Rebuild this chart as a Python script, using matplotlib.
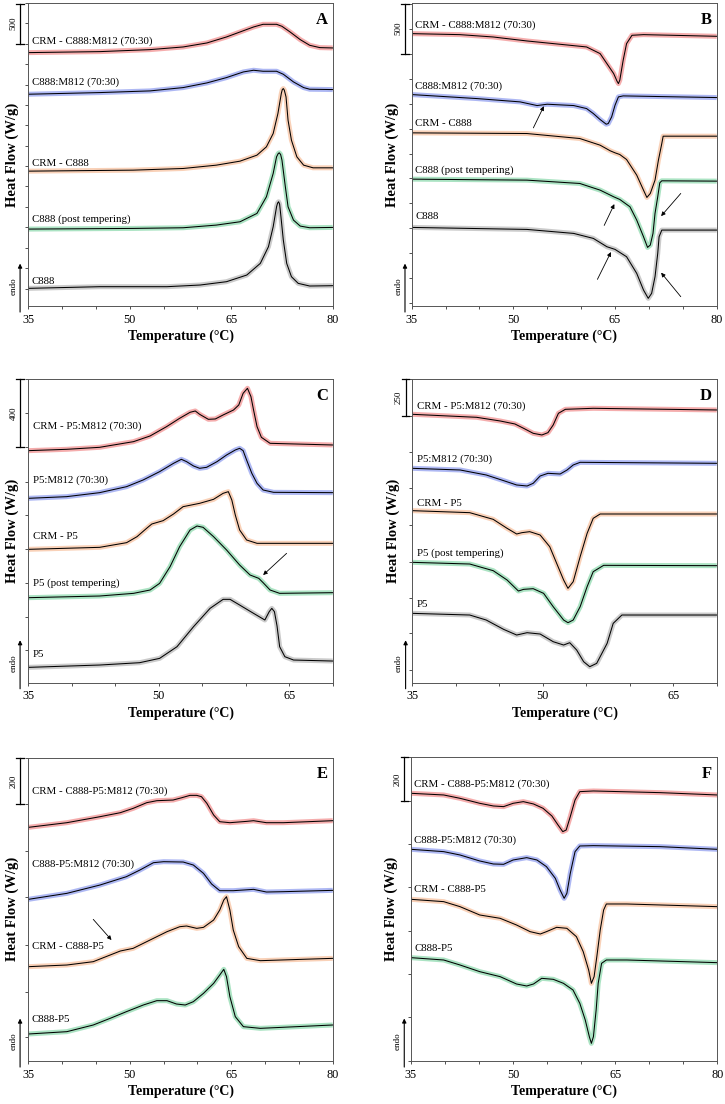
import matplotlib
matplotlib.use("Agg")
import matplotlib.pyplot as plt
import matplotlib.transforms as mtransforms

plt.rcParams['font.family'] = ['Liberation Serif', 'DejaVu Serif']

# Heat flow traces (offset, arbitrary units; height above the panel's lower edge)
# ---------------- Panel A ----------------
A_T_red = [35, 45.6, 53.0, 57.9, 61.4, 64.3, 66.3, 68.3, 69.7, 71.7, 72.5, 73.7, 75.2, 76.6, 78.1, 80]
A_H_red = [761, 764, 770, 778, 790, 808, 823, 838, 846, 846, 840, 823, 800, 783, 776, 775]
A_T_blue = [35, 45.6, 53.0, 57.9, 61.4, 64.3, 66.8, 68.3, 69.7, 71.7, 72.7, 74.2, 75.7, 76.6, 80]
A_H_blue = [636, 641, 646, 656, 670, 686, 703, 708, 705, 705, 696, 673, 656, 651, 650]
A_T_orange = [35, 50.5, 57.9, 62.8, 66.3, 68.8, 70.2, 71.2, 71.9, 72.4, 72.55, 72.7, 72.85, 73.1, 73.4, 73.9, 74.7, 75.7, 77.1, 80]
A_H_orange = [405, 408, 413, 423, 435, 453, 478, 518, 578, 638, 650, 653, 648, 628, 558, 498, 448, 423, 415, 415]
A_T_green = [35, 50.5, 57.9, 62.8, 66.3, 68.8, 70.2, 71.2, 71.7, 71.95, 72.1, 72.3, 72.5, 73.0, 73.4, 74.2, 75.2, 76.6, 80]
A_H_green = [231, 233, 235, 243, 253, 278, 328, 398, 448, 458, 460, 455, 438, 358, 298, 258, 240, 235, 236]
A_T_gray = [35, 45.6, 55.5, 60.4, 64.3, 67.3, 69.3, 70.5, 71.2, 71.7, 71.85, 72.0, 72.15, 72.3, 72.7, 73.2, 73.9, 74.9, 76.6, 80]
A_H_gray = [53, 58, 58, 63, 73, 93, 128, 178, 238, 298, 309, 313, 306, 278, 198, 128, 88, 68, 60, 61]
A_labels = ["CRM - C888:M812 (70:30)", "C888:M812 (70:30)", "CRM - C888", "C888 (post tempering)", "C888"]
A_label_H = [796, 671, 429, 261, 75]

# ---------------- Panel B ----------------
B_T_red = [35, 42.1, 47.0, 52.0, 56.9, 60.8, 61.8, 62.8, 63.8, 64.8, 65.3, 65.5, 65.7, 66.2, 66.7, 67.5, 69.2, 80]
B_H_red = [818, 815, 808, 796, 786, 778, 768, 758, 728, 698, 675, 668, 678, 738, 788, 813, 815, 810]
B_T_blue = [35, 44.6, 51.0, 53.5, 55.0, 58.9, 60.8, 61.8, 62.8, 63.7, 64.0, 64.5, 65.0, 65.5, 66.2, 80]
B_H_blue = [635, 623, 613, 602, 606, 602, 593, 578, 560, 546, 548, 568, 603, 628, 631, 626]
B_T_orange = [35, 52.0, 59.8, 62.8, 64.3, 65.0, 65.7, 66.7, 68.2, 69.2, 69.7, 70.2, 70.9, 71.4, 71.9, 72.1, 80]
B_H_orange = [520, 518, 503, 483, 466, 460, 455, 440, 393, 348, 326, 338, 378, 438, 488, 510, 510]
B_T_green = [35, 52.0, 59.8, 62.8, 64.8, 65.7, 67.2, 68.2, 69.2, 69.8, 70.2, 70.6, 70.9, 71.3, 71.6, 71.9, 80]
B_H_green = [381, 378, 368, 348, 328, 320, 298, 258, 208, 176, 183, 218, 278, 328, 370, 376, 375]
B_T_gray = [35, 52.0, 58.9, 61.8, 63.8, 65.0, 66.7, 68.2, 69.2, 69.9, 70.4, 70.9, 71.3, 71.5, 71.9, 80]
B_H_gray = [236, 230, 218, 203, 178, 170, 148, 98, 48, 23, 38, 88, 158, 208, 228, 228]
B_labels = ["CRM - C888:M812 (70:30)", "C888:M812 (70:30)", "CRM - C888", "C888 (post tempering)", "C888"]
B_label_H = [843, 660, 548, 408, 268]

# ---------------- Panel C ----------------
C_T_red = [35, 39.4, 43.2, 47.1, 49.0, 50.9, 52.4, 53.6, 54.2, 54.7, 55.7, 56.5, 57.4, 58.6, 59.2, 59.7, 60.2, 60.6, 60.9, 61.3, 61.8, 62.8, 70]
C_H_red = [696, 700, 706, 723, 740, 768, 793, 811, 815, 805, 790, 791, 803, 818, 833, 868, 883, 858, 818, 768, 736, 718, 713]
C_T_blue = [35, 39.4, 43.2, 46.3, 48.2, 50.1, 51.7, 52.6, 53.2, 54.0, 54.7, 55.5, 56.7, 57.8, 58.8, 59.3, 59.7, 60.1, 60.7, 61.3, 62.0, 63.2, 70]
C_H_blue = [553, 558, 570, 588, 608, 633, 658, 670, 663, 650, 643, 646, 663, 683, 698, 703, 696, 668, 628, 598, 578, 571, 570]
C_T_orange = [35, 43.2, 46.3, 47.5, 48.6, 49.2, 50.5, 51.7, 52.8, 54.7, 56.3, 57.4, 58.0, 58.4, 58.8, 59.3, 60.1, 61.3, 70]
C_H_orange = [400, 406, 420, 438, 463, 476, 486, 506, 528, 538, 550, 568, 573, 548, 503, 458, 428, 418, 418]
C_T_green = [35, 43.2, 47.1, 49.0, 50.1, 51.3, 52.4, 53.6, 54.4, 55.1, 56.3, 57.8, 59.3, 60.5, 61.5, 62.0, 62.8, 63.9, 70]
C_H_green = [255, 260, 268, 278, 298, 348, 408, 458, 470, 466, 438, 398, 353, 323, 313, 300, 278, 268, 270]
C_T_gray = [35, 43.2, 47.8, 50.1, 52.1, 54.0, 55.9, 57.4, 58.2, 59.3, 60.9, 62.2, 62.7, 63.0, 63.3, 63.6, 63.9, 64.5, 65.5, 70]
C_H_gray = [46, 53, 60, 73, 108, 168, 223, 250, 250, 233, 208, 188, 213, 223, 213, 170, 108, 78, 68, 65]
C_labels = ["CRM - P5:M812 (70:30)", "P5:M812 (70:30)", "CRM - P5", "P5 (post tempering)", "P5"]
C_label_H = [768, 606, 438, 298, 86]

# ---------------- Panel D ----------------
D_T_red = [35, 42.4, 45.1, 46.8, 47.8, 48.9, 49.9, 50.6, 51.2, 51.8, 52.6, 55.8, 70]
D_H_red = [805, 796, 785, 776, 763, 748, 743, 750, 773, 808, 820, 823, 818]
D_T_blue = [35, 40.5, 43.5, 45.5, 47.0, 48.2, 48.9, 49.7, 50.6, 52.0, 52.8, 53.5, 54.3, 70]
D_H_blue = [643, 638, 623, 606, 593, 590, 598, 620, 628, 626, 638, 653, 661, 658]
D_T_orange = [35, 41.6, 44.3, 45.9, 47.0, 47.6, 48.5, 49.7, 50.8, 51.6, 52.4, 52.9, 53.5, 54.3, 55.1, 55.8, 56.6, 70]
D_H_orange = [516, 510, 490, 463, 446, 450, 453, 443, 408, 358, 308, 283, 303, 378, 448, 493, 506, 506]
D_T_green = [35, 41.6, 44.3, 45.9, 47.2, 47.8, 48.9, 50.1, 51.2, 52.4, 52.9, 53.5, 54.3, 55.1, 55.8, 57.0, 70]
D_H_green = [361, 356, 336, 308, 275, 280, 282, 268, 228, 188, 180, 188, 228, 288, 333, 352, 351]
D_T_gray = [35, 41.6, 43.5, 45.5, 47.0, 48.2, 49.7, 51.2, 52.4, 53.1, 53.9, 54.7, 55.4, 56.2, 57.4, 58.1, 59.1, 70]
D_H_gray = [208, 203, 188, 160, 143, 150, 146, 123, 113, 120, 98, 63, 48, 58, 118, 178, 203, 203]
D_labels = ["CRM - P5:M812 (70:30)", "P5:M812 (70:30)", "CRM - P5", "P5 (post tempering)", "P5"]
D_label_H = [828, 671, 538, 388, 236]

# ---------------- Panel E ----------------
E_T_red = [35, 40.7, 45.6, 48.6, 50.5, 52.5, 54.0, 56.4, 57.7, 58.9, 59.9, 60.6, 61.4, 62.4, 63.3, 64.8, 67.3, 68.3, 70.2, 72.7, 80]
E_H_red = [701, 715, 733, 745, 758, 775, 781, 783, 790, 797, 797, 793, 773, 738, 718, 715, 719, 721, 715, 715, 721]
E_T_blue = [35, 40.7, 45.6, 49.5, 51.5, 53.5, 55.0, 57.9, 59.4, 60.9, 62.1, 63.3, 65.3, 68.3, 70.2, 72.7, 80]
E_H_blue = [485, 503, 528, 553, 573, 595, 598, 597, 588, 563, 531, 511, 511, 515, 507, 508, 512]
E_T_orange = [35, 40.7, 44.6, 47.1, 48.6, 50.5, 53.0, 55.5, 57.4, 58.4, 59.9, 60.9, 62.4, 63.3, 63.9, 64.3, 64.8, 65.3, 66.1, 67.3, 69.3, 80]
E_H_orange = [283, 288, 298, 318, 330, 338, 363, 388, 403, 405, 398, 401, 423, 453, 483, 493, 453, 393, 343, 308, 301, 308]
E_T_green = [35, 40.7, 44.6, 47.1, 49.5, 52.0, 54.0, 55.5, 56.9, 58.2, 59.4, 60.9, 62.4, 63.3, 63.9, 64.3, 64.8, 65.6, 66.8, 69.3, 80]
E_H_green = [81, 88, 108, 128, 148, 168, 181, 181, 171, 168, 178, 203, 233, 258, 275, 253, 193, 133, 103, 98, 108]
E_labels = ["CRM - C888-P5:M812 (70:30)", "C888-P5:M812 (70:30)", "CRM - C888-P5", "C888-P5"]
E_label_H = [811, 590, 343, 125]

# ---------------- Panel F ----------------
F_T_red = [35, 39.8, 42.2, 45.1, 47.1, 48.6, 50.0, 51.5, 53.0, 54.4, 55.7, 56.6, 57.3, 57.8, 58.4, 59.1, 59.8, 61.8, 71.6, 80]
F_H_red = [803, 798, 788, 773, 765, 763, 773, 778, 771, 758, 735, 708, 688, 693, 733, 783, 808, 810, 805, 798]
F_T_blue = [35, 39.8, 42.2, 45.1, 47.1, 48.6, 50.0, 52.0, 53.5, 54.9, 56.2, 56.9, 57.5, 57.9, 58.4, 59.1, 59.8, 61.8, 71.6, 80]
F_H_blue = [635, 628, 618, 600, 591, 590, 603, 610, 603, 583, 548, 513, 488, 503, 563, 628, 645, 646, 643, 635]
F_T_orange = [35, 39.8, 42.2, 45.1, 48.1, 50.5, 52.5, 54.0, 54.9, 56.4, 57.9, 59.3, 60.3, 61.1, 61.5, 61.9, 62.3, 62.8, 63.3, 63.7, 66.7, 80]
F_H_orange = [485, 478, 463, 438, 428, 408, 388, 381, 388, 401, 398, 373, 328, 273, 233, 253, 313, 393, 453, 471, 471, 463]
F_T_green = [35, 39.8, 42.2, 45.1, 48.1, 50.5, 52.0, 53.0, 54.2, 55.9, 57.4, 58.8, 59.8, 60.6, 61.2, 61.5, 61.8, 62.2, 62.5, 63.0, 63.7, 66.7, 80]
F_H_green = [310, 303, 288, 268, 253, 231, 225, 231, 248, 245, 233, 213, 173, 123, 73, 53, 73, 153, 233, 293, 303, 303, 295]
F_labels = ["CRM - C888-P5:M812 (70:30)", "C888-P5:M812 (70:30)", "CRM - C888-P5", "C888-P5"]
F_label_H = [831, 663, 515, 338]

# Arrows (tail T, tail H, head T, head H)
B_arrows = [(52.95, 535, 54.5, 600), (63.4, 242, 64.9, 306), (74.7, 338, 71.8, 270),
            (62.4, 80, 64.4, 162), (74.7, 28, 71.8, 100)]
C_arrows = [(64.7, 388, 62.0, 323)]
E_arrows = [(44.6, 425, 47.3, 363)]

# scale bars: (label, top, bottom)
scale_A = ("500", 908, 788)
scale_B = ("500", 908, 758)
scale_C = ("400", 910, 706)
scale_D = ("250", 910, 800)
scale_E = ("200", 910, 770)
scale_F = ("200", 911, 781)

yt_A = [910, 849, 788, 727, 665, 604, 543, 481, 420, 359, 297, 236, 175, 113, 51]
yt_B = [908, 833, 758, 683, 608, 533, 458, 383, 308, 233, 158, 83, 8]
yt_C = [910, 808, 706, 603, 503, 400, 298, 198, 98]
yt_D = [910, 800, 693, 583, 473, 363, 253, 148, 38]
yt_E = [910, 770, 631, 491, 348, 208, 73]
yt_F = [911, 781, 651, 521, 391, 261, 131, 1]

COLORS = ['#e94b4b', '#4d63e6', '#f29a62', '#45c27a', '#8c8c8c']

W, HT = 725.0, 1104.0
def rect(l, t, r, b):
    return [l / W, 1 - b / HT, (r - l) / W, (b - t) / HT]

fig = plt.figure(figsize=(7.25, 11.04), dpi=100)

panels = [
    dict(r=rect(28.3, 3, 332.7, 306), xmax=80, curves=[(A_T_red, A_H_red), (A_T_blue, A_H_blue), (A_T_orange, A_H_orange), (A_T_green, A_H_green), (A_T_gray, A_H_gray)],
         labels=A_labels, lab_H=A_label_H, letter="A", arrows=[], scale=scale_A, yt=yt_A, ytop=910, col=0),
    dict(r=rect(411.7, 3, 716.7, 306), xmax=80, curves=[(B_T_red, B_H_red), (B_T_blue, B_H_blue), (B_T_orange, B_H_orange), (B_T_green, B_H_green), (B_T_gray, B_H_gray)],
         labels=B_labels, lab_H=B_label_H, letter="B", arrows=B_arrows, scale=scale_B, yt=yt_B, ytop=910, col=1),
    dict(r=rect(28.3, 379.3, 332.7, 682.7), xmax=70, curves=[(C_T_red, C_H_red), (C_T_blue, C_H_blue), (C_T_orange, C_H_orange), (C_T_green, C_H_green), (C_T_gray, C_H_gray)],
         labels=C_labels, lab_H=C_label_H, letter="C", arrows=C_arrows, scale=scale_C, yt=yt_C, ytop=910, col=0),
    dict(r=rect(412.3, 379.3, 716.7, 682.7), xmax=70, curves=[(D_T_red, D_H_red), (D_T_blue, D_H_blue), (D_T_orange, D_H_orange), (D_T_green, D_H_green), (D_T_gray, D_H_gray)],
         labels=D_labels, lab_H=D_label_H, letter="D", arrows=[], scale=scale_D, yt=yt_D, ytop=910, col=1),
    dict(r=rect(28.3, 757.7, 332.7, 1061), xmax=80, curves=[(E_T_red, E_H_red), (E_T_blue, E_H_blue), (E_T_orange, E_H_orange), (E_T_green, E_H_green)],
         labels=E_labels, lab_H=E_label_H, letter="E", arrows=E_arrows, scale=scale_E, yt=yt_E, ytop=910, col=0),
    dict(r=rect(411.0, 757.3, 717.3, 1061), xmax=80, curves=[(F_T_red, F_H_red), (F_T_blue, F_H_blue), (F_T_orange, F_H_orange), (F_T_green, F_H_green)],
         labels=F_labels, lab_H=F_label_H, letter="F", arrows=[], scale=scale_F, yt=yt_F, ytop=911, col=1),
]

for p in panels:
    ax = fig.add_axes(p['r'])
    for (T, H), c in zip(p['curves'], COLORS):
        ax.plot(T, H, color=c, lw=3.6, alpha=0.45, solid_capstyle='butt', solid_joinstyle='round')
        ax.plot(T, H, color='black', lw=0.75, solid_joinstyle='round')
    ax.set_xlim(35, p['xmax'])
    ax.set_ylim(0, p['ytop'])
    for txt, h in zip(p['labels'], p['lab_H']):
        ax.text(35.5, h, txt, fontsize=7.8, va='center', ha='left')
    ax.text(0.965, 0.945, p['letter'], transform=ax.transAxes, fontsize=12,
            fontweight='bold', ha='center', va='center')
    for (t0, h0, t1, h1) in p['arrows']:
        ax.annotate('', xy=(t1, h1), xytext=(t0, h0),
                    arrowprops=dict(arrowstyle='-|>', color='black', lw=0.6,
                                    mutation_scale=6, shrinkA=0, shrinkB=0))
    # ticks
    xt = list(range(35, p['xmax'] + 1, 5))
    ax.set_xticks(xt)
    ax.set_xticklabels([str(v) if (v - 35) % 15 == 0 else '' for v in xt], fontsize=8.8)
    ax.set_yticks(p['yt'])
    ax.set_yticklabels([])
    ax.tick_params(axis='both', direction='out', length=2.5, width=0.6, color='#333333', pad=3)
    for s in ax.spines.values():
        s.set_color('#555555')
        s.set_linewidth(0.7)
    ax.set_xlabel('Temperature (°C)', fontsize=10, fontweight='bold', labelpad=3)
    ax.set_ylabel('Heat Flow (W/g)', fontsize=10.5, fontweight='bold')
    lx = -0.03 if p['col'] == 0 else -0.042
    ax.yaxis.set_label_coords(lx, 0.5)
    # scale bar
    trans = mtransforms.blended_transform_factory(ax.transAxes, ax.transData)
    sx = -0.027 if p['col'] == 0 else -0.022
    lab, top, bot = p['scale']
    ax.plot([sx, sx], [top, bot], color='black', lw=0.9, transform=trans, clip_on=False)
    ax.plot([sx - 0.012, sx + 0.012], [top, top], color='black', lw=0.9, transform=trans, clip_on=False)
    ax.plot([sx - 0.012, sx + 0.012], [bot, bot], color='black', lw=0.9, transform=trans, clip_on=False)
    ax.text(sx - 0.022, (top + bot) / 2, lab, transform=trans, rotation=90, fontsize=6.5,
            ha='center', va='center')
    # endo arrow
    ax.annotate('', xy=(sx, 0.14), xytext=(sx, -0.02), xycoords='axes fraction',
                textcoords='axes fraction',
                arrowprops=dict(arrowstyle='-|>', color='black', lw=0.8, mutation_scale=6,
                                shrinkA=0, shrinkB=0), annotation_clip=False)
    ax.text(sx - 0.022, 0.065, 'endo', transform=ax.transAxes, rotation=90, fontsize=6.5,
            ha='center', va='center')

fig.savefig('out.png', dpi=100)
